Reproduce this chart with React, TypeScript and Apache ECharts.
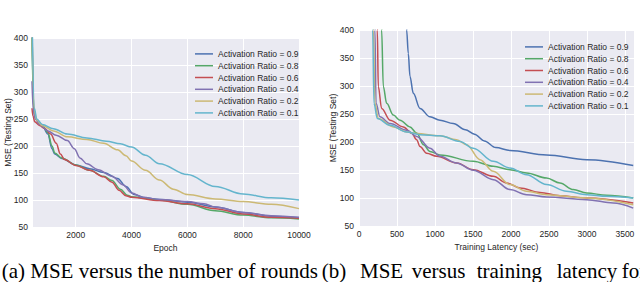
import React, { useEffect, useRef } from 'react';
import * as echarts from 'echarts';

const SERIES_NAMES = [
  'Activation Ratio = 0.9',
  'Activation Ratio = 0.8',
  'Activation Ratio = 0.6',
  'Activation Ratio = 0.4',
  'Activation Ratio = 0.2',
  'Activation Ratio = 0.1',
];
const COLORS = ['#4C72B0', '#55A868', '#C44E52', '#8172B2', '#CCB974', '#64B5CD'];

// (a) MSE vs Epoch
const epoch09 = [[433, 420], [500, 262], [600, 248], [800, 238], [1000, 222], [1150, 195], [1250, 185], [1500, 177], [2000, 165], [2500, 158], [3000, 151], [3500, 140], [3800, 125], [4100, 110], [4500, 104], [5000, 101], [6000, 96], [7000, 87], [8000, 77], [9000, 70], [10000, 67]];
const epoch08 = [[433, 400], [500, 262], [600, 248], [800, 238], [1000, 225], [1150, 200], [1250, 187], [1500, 178], [2000, 165], [2500, 155], [3000, 144], [3300, 136], [3600, 120], [3850, 109], [4000, 106], [5000, 100], [6000, 92], [7000, 80], [8000, 72], [9000, 67], [10000, 65]];
const epoch06 = [[433, 270], [470, 255], [530, 245], [700, 238], [900, 232], [1100, 222], [1300, 205], [1450, 185], [1600, 175], [2000, 164], [2500, 155], [3000, 143], [3300, 133], [3550, 118], [3800, 108], [4000, 105], [5000, 99], [6000, 93], [7000, 84], [8000, 74], [9000, 68], [10000, 66]];
const epoch04 = [[433, 320], [480, 265], [550, 250], [700, 240], [1000, 228], [1300, 220], [1700, 210], [1950, 195], [2150, 178], [2400, 167], [2800, 156], [3300, 144], [3700, 128], [4000, 113], [4400, 105], [5000, 101], [6000, 97], [6600, 93], [7000, 87], [8000, 77], [9000, 71], [10000, 68]];
const epoch02 = [[433, 420], [520, 265], [600, 248], [800, 238], [1200, 228], [1700, 217], [2400, 212], [3000, 205], [3500, 193], [3800, 182], [4000, 172], [4500, 155], [5000, 137], [5500, 120], [6000, 110], [7000, 102], [8000, 97], [9000, 92], [10000, 84]];
const epoch01 = [[433, 450], [520, 270], [600, 250], [800, 240], [1200, 232], [1700, 222], [2400, 215], [3100, 209], [3600, 204], [4000, 198], [4500, 183], [5000, 167], [6000, 147], [7000, 125], [8000, 111], [9000, 104], [10000, 100]];

// (b) MSE vs Training Latency (sec)
const lat09 = [[620, 600], [627, 400], [649, 358], [671, 317], [715, 287], [803, 260], [934, 245], [1066, 239], [1241, 233], [1400, 222], [1520, 214], [1650, 202], [1800, 190], [1987, 185], [2469, 177], [2996, 168.5], [3610, 158]];
const lat08 = [[290, 700], [298, 400], [320, 299], [364, 269], [452, 248], [540, 239], [671, 227], [759, 216], [850, 195], [934, 183], [1066, 177], [1504, 165.5], [1768, 156.6], [1987, 150.6], [2206, 144.7], [2469, 135.7], [2645, 126.8], [2820, 115], [2996, 109], [3259, 104.8], [3610, 100]];
const lat06 = [[235, 700], [241, 400], [254, 299], [298, 260], [408, 239], [583, 227], [693, 216], [759, 204], [803, 192], [890, 180], [1022, 174.4], [1285, 162.5], [1504, 150.6], [1768, 138.7], [1943, 126.8], [2118, 118], [2382, 110], [2645, 104], [2996, 100], [3610, 91]];
const lat04 = [[203, 700], [210, 400], [224, 269], [276, 245], [408, 233], [627, 221], [759, 210], [934, 189], [1066, 174.4], [1285, 162.5], [1504, 149.4], [1768, 132.8], [1987, 115], [2206, 106], [2469, 101.8], [2996, 97], [3346, 91], [3610, 82]];
const lat02 = [[182, 700], [189, 400], [210, 269], [254, 242], [452, 227], [627, 218], [759, 215], [1066, 211], [1285, 204], [1417, 195], [1592, 168.5], [1768, 147.6], [1987, 124], [2206, 112], [2469, 106], [2996, 100], [3610, 88]];
const lat01 = [[173, 700], [180, 400], [197, 269], [241, 242], [408, 230], [627, 218], [803, 213], [1066, 211], [1329, 201], [1504, 189], [1768, 165.5], [1987, 153.6], [2206, 141.7], [2469, 124], [2732, 112], [2996, 106], [3259, 103], [3610, 100]];

const epochSeries = [epoch09, epoch08, epoch06, epoch04, epoch02, epoch01];
const latencySeries = [lat09, lat08, lat06, lat04, lat02, lat01];

const captionA = [{ w: '(a) MSE versus the number of rounds', x: 1.7 }];
const captionB = [
  { w: '(b)', x: 1.7 }, { w: 'MSE', x: 40 }, { w: 'versus', x: 91.7 }, { w: 'training', x: 156.7 },
  { w: 'latency', x: 236.7 }, { w: 'for', x: 301.7 },
];

const FONT = 'Liberation Sans, Arial, sans-serif';
const SERIF = 'Liberation Serif, Times New Roman, serif';
const TXT = '#262626';

function buildOption(p: {
  data: number[][][]; grid: any; xMin: number; xMax: number; xInterval?: number; xStep: number;
  xName: string; yNameGap: number; yLabelMargin: number; legendLeft: number; legendTop: number;
  caption: { w: string; x: number }[];
}) {
  const axisLabel = { fontSize: 8.5, color: TXT, fontFamily: FONT };
  const nameTextStyle = { fontSize: 8.5, color: TXT, fontFamily: FONT };
  const splitLine = { show: true, lineStyle: { color: '#ffffff', width: 1 } };
  return {
    animation: false,
    backgroundColor: '#ffffff',
    grid: { ...p.grid, backgroundColor: '#EAEAF2', show: true, borderWidth: 0, containLabel: false, outerBoundsMode: 'none' },
    xAxis: {
      type: 'value', min: p.xMin, max: p.xMax,
      ...(p.xInterval ? { interval: p.xInterval } : { splitNumber: 5 }),
      name: p.xName, nameLocation: 'middle', nameGap: 14, nameTextStyle,
      axisLine: { show: false }, axisTick: { show: false },
      axisLabel: { ...axisLabel, margin: 3, formatter: (v: number) => (v % p.xStep === 0 ? String(v) : '') },
      splitLine,
    },
    yAxis: {
      type: 'value', min: 50, max: 400, interval: 50,
      name: 'MSE (Testing Set)', nameLocation: 'middle', nameGap: p.yNameGap, nameTextStyle,
      nameMoveOverlap: false,
      axisLine: { show: false }, axisTick: { show: false },
      axisLabel: { ...axisLabel, margin: p.yLabelMargin }, splitLine,
    },
    legend: {
      left: p.legendLeft, top: p.legendTop, orient: 'vertical', icon: 'rect',
      itemWidth: 18, itemHeight: 1.5, itemGap: 0, selectedMode: false,
      textStyle: { fontSize: 8.5, color: TXT, fontFamily: FONT, lineHeight: 11.8 },
      data: SERIES_NAMES,
    },
    series: p.data.map((d, i) => ({
      name: SERIES_NAMES[i], type: 'line', data: d,
      showSymbol: false, symbol: 'none', smooth: 0.35, smoothMonotone: 'x',
      lineStyle: { color: COLORS[i], width: 1.5 }, itemStyle: { color: COLORS[i] }, clip: true,
    })),
    graphic: p.caption.map((c) => ({
      type: 'text', x: c.x, y: 270.5,
      style: { text: c.w, fill: '#000', fontSize: 21, fontFamily: SERIF, verticalAlign: 'middle', align: 'left' },
    })),
  };
}

export default function App() {
  const refA = useRef<HTMLDivElement>(null);
  const refB = useRef<HTMLDivElement>(null);
  useEffect(() => {
    if (!refA.current || !refB.current) return;
    const a = echarts.init(refA.current, undefined, { renderer: 'svg' });
    const b = echarts.init(refB.current, undefined, { renderer: 'svg' });
    a.setOption(buildOption({
      data: epochSeries, grid: { left: 32, right: 21, top: 38, bottom: 55 },
      xMin: 433, xMax: 10000, xStep: 2000, xName: 'Epoch', yNameGap: 20, yLabelMargin: 4,
      legendLeft: 190, legendTop: 43, caption: captionA,
    }));
    b.setOption(buildOption({
      data: latencySeries, grid: { left: 39, right: 6, top: 30, bottom: 56 },
      xMin: 0, xMax: 3620, xInterval: 500, xStep: 500, xName: 'Training Latency (sec)', yNameGap: 22, yLabelMargin: 5,
      legendLeft: 200, legendTop: 36, caption: captionB,
    }));
    return () => { a.dispose(); b.dispose(); };
  }, []);
  return (
    <div style={{ position: 'fixed', left: 0, top: 0, width: 640, height: 282, background: '#fff' }}>
      <div ref={refA} style={{ position: 'absolute', left: 0, top: 0, width: 320, height: 282, overflow: 'hidden' }} />
      <div ref={refB} style={{ position: 'absolute', left: 320, top: 0, width: 320, height: 282, overflow: 'hidden' }} />
    </div>
  );
}
